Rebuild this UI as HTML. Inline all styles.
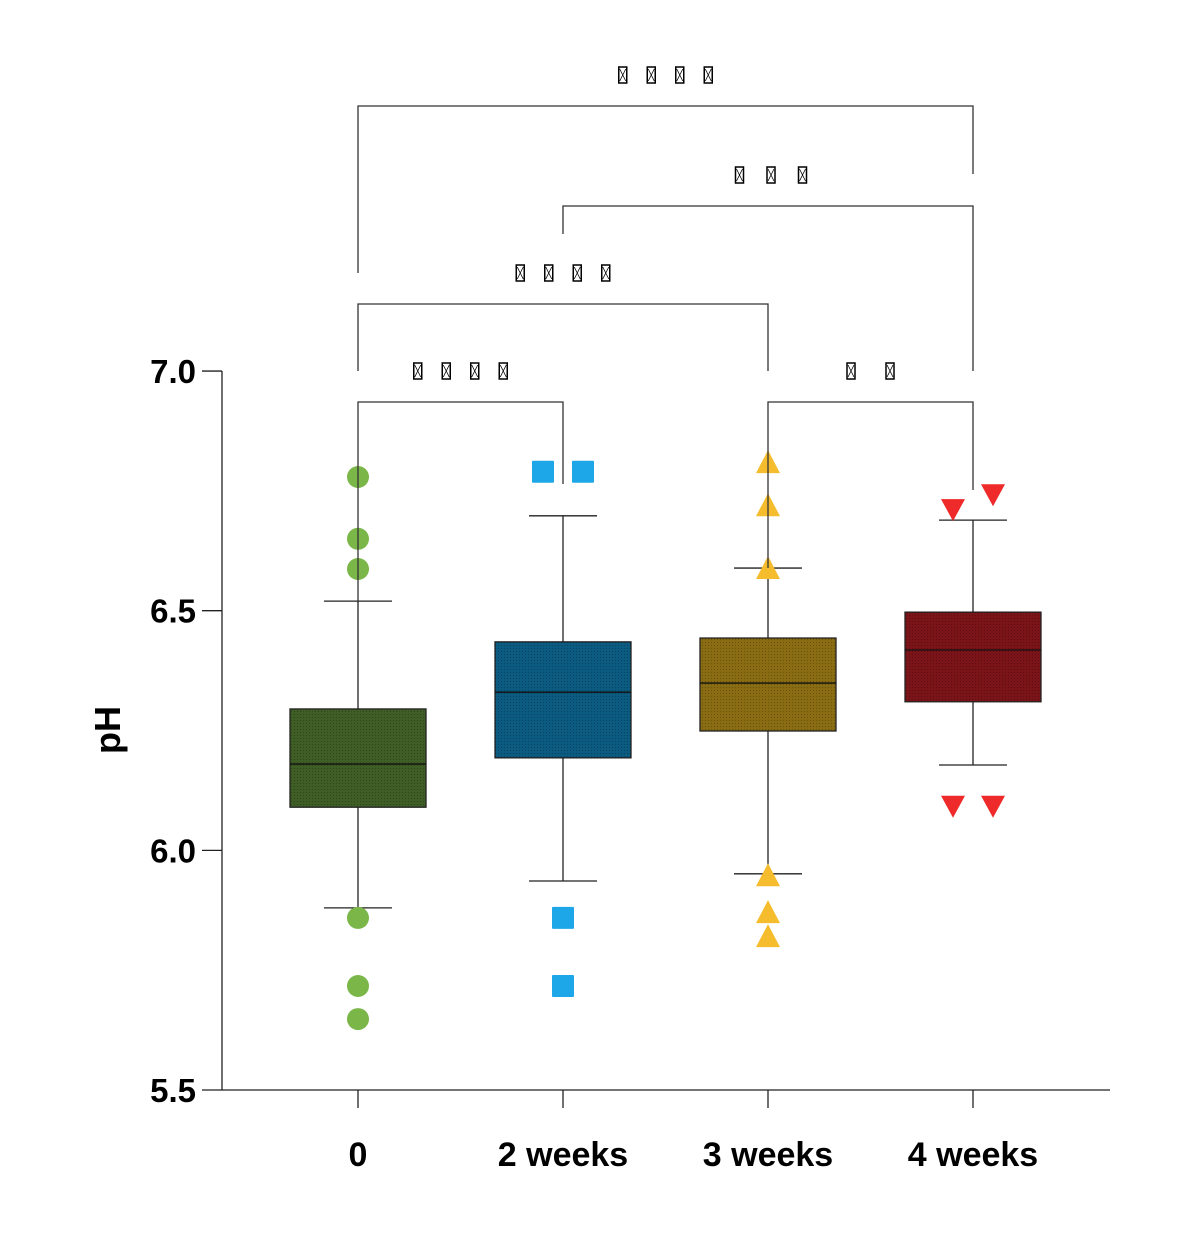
<!DOCTYPE html>
<html><head><meta charset="utf-8"><style>
html,body{margin:0;padding:0;background:#fff;}
svg{display:block;font-family:"Liberation Sans",Arial,sans-serif;}
</style></head><body>
<svg id="chart" width="1200" height="1233" viewBox="0 0 1200 1233" xmlns="http://www.w3.org/2000/svg">
<defs>
<pattern id="dots" width="3" height="3" patternUnits="userSpaceOnUse"><rect x="0" y="0" width="1" height="1" fill="rgba(0,0,0,0.25)"/></pattern>
</defs>
<g id="axes"></g>
<g id="marks"></g>
<g id="sig"></g>
</svg>
<script>
const categories = ["0","2 weeks","3 weeks","4 weeks"];
const q1 = [6.09, 6.193, 6.249, 6.31];
const q3 = [6.295, 6.435, 6.443, 6.497];
const medians = [6.18, 6.33, 6.349, 6.418];
const whiskerLow = [5.88, 5.936, 5.951, 6.178];
const whiskerHigh = [6.52, 6.698, 6.589, 6.689];
const outliers = [
  [6.779, 6.65, 6.587, 5.859, 5.717, 5.648],
  [6.79, 6.79, 5.859, 5.717],
  [6.808, 6.718, 6.587, 5.946, 5.869, 5.819],
  [6.712, 6.743, 6.093, 6.093]
];
const outlierOffsets = [[0,0,0,0,0,0],[-20,20,0,0],[0,0,0,0,0,0],[-20,20,-20,20]];
const yTicks = [5.5, 6.0, 6.5, 7.0];
const yTickLabels = ["5.5","6.0","6.5","7.0"];
const comparisons = [[0,3],[1,3],[0,2],[0,1],[2,3]];
const sigLabels = ["****","***","****","****","**"];

const NS="http://www.w3.org/2000/svg";
const fills=["#3f5e25","#0b5a80","#8a6c12","#7a1418"];
const ptColors=["#7ab648","#1ea7e8","#f5bd2e","#ee2a2a"];
function y(v){return 1090-(v-5.5)*479.3;}
function x(i){return 358+i*205;}
function el(tag,attrs,parent){const e=document.createElementNS(NS,tag);for(const k in attrs)e.setAttribute(k,attrs[k]);parent.appendChild(e);return e;}
const axes=document.getElementById('axes'),marks=document.getElementById('marks'),sig=document.getElementById('sig');
const ln={stroke:"#222","stroke-width":1.3};
let a=el('line',Object.assign({x1:222,y1:y(7),x2:222,y2:y(5.5)},ln),axes);

a=el('line',Object.assign({x1:222,y1:1090,x2:1110,y2:1090},ln),axes);

yTicks.forEach((t,i)=>{
  let tk=el('line',Object.assign({x1:202,y1:y(t),x2:222,y2:y(t)},ln),axes);
  
  let tx=el('text',{x:196,y:y(t)+12,"text-anchor":"end","font-size":33,"font-weight":"bold",fill:"#000"},axes);
  tx.textContent=yTickLabels[i];
  
});
categories.forEach((c,i)=>{
  let tk=el('line',Object.assign({x1:x(i),y1:1090,x2:x(i),y2:1108},ln),axes);
  
  let tx=el('text',{x:x(i),y:1166,"text-anchor":"middle","font-size":34,"font-weight":"bold",fill:"#000"},axes);
  tx.textContent=c;
  
});
let yt=el('text',{x:0,y:0,transform:"translate(120,730) rotate(-90)","text-anchor":"middle","font-size":36,"font-weight":"bold",fill:"#000"},axes);
yt.textContent="pH";


categories.forEach((c,i)=>{
  const g=el('g',{},marks);
  
  el('line',Object.assign({x1:x(i),y1:y(whiskerHigh[i]),x2:x(i),y2:y(q3[i])},ln),g);
  el('line',Object.assign({x1:x(i),y1:y(q1[i]),x2:x(i),y2:y(whiskerLow[i])},ln),g);
  el('line',Object.assign({x1:x(i)-34,y1:y(whiskerHigh[i]),x2:x(i)+34,y2:y(whiskerHigh[i])},ln),g);
  el('line',Object.assign({x1:x(i)-34,y1:y(whiskerLow[i]),x2:x(i)+34,y2:y(whiskerLow[i])},ln),g);
  el('rect',{x:x(i)-68,y:y(q3[i]),width:136,height:y(q1[i])-y(q3[i]),fill:fills[i],stroke:"#222","stroke-width":1.3},g);
  el('rect',{x:x(i)-68,y:y(q3[i]),width:136,height:y(q1[i])-y(q3[i]),fill:"url(#dots)"},g);
  el('line',{x1:x(i)-68,y1:y(medians[i]),x2:x(i)+68,y2:y(medians[i]),stroke:"#111","stroke-width":1.3},g);
  outliers[i].forEach((v,j)=>{
    const cx=x(i)+outlierOffsets[i][j],cy=y(v);let p;
    if(i===0)p=el('circle',{cx:cx,cy:cy,r:11,fill:ptColors[0]},g);
    else if(i===1)p=el('rect',{x:cx-11,y:cy-11,width:22,height:22,rx:1,fill:ptColors[1]},g);
    else if(i===2)p=el('polygon',{points:`${cx},${cy-13} ${cx+12},${cy+10} ${cx-12},${cy+10}`,fill:ptColors[2]},g);
    else p=el('polygon',{points:`${cx-12},${cy-10} ${cx+12},${cy-10} ${cx},${cy+12}`,fill:ptColors[3]},g);
    
  });
});

const bY=[106,206,304,402,402];
const legL=[273,234,371,603,568];
const legR=[174,371,371,484,490];
comparisons.forEach((cp,k)=>{
  const g=el('g',{},sig);
  
  const x1=x(cp[0]),x2=x(cp[1]);
  el('polyline',{points:`${x1},${legL[k]} ${x1},${bY[k]} ${x2},${bY[k]} ${x2},${legR[k]}`,fill:"none",stroke:"#333","stroke-width":1.3},g);
  const n=sigLabels[k].length,gap=(n===2)?39:(n===3?31.5:28.5);
  const cx=(x1+x2)/2+(k===1?3:0)+(k===0?0:0);
  const ty=bY[k]-31;
  for(let s=0;s<n;s++){
    const bx=cx-(n-1)*gap/2+s*gap;
    el('rect',{x:bx-4,y:ty-8,width:8,height:16,fill:"#fff",stroke:"#000","stroke-width":1.5},g);
    el('path',{d:`M${bx-3},${ty-6} L${bx+3},${ty+6} M${bx+3},${ty-6} L${bx-3},${ty+6}`,stroke:"#000","stroke-width":0.8},g);
  }
  const t=el('text',{x:cx,y:ty+5,"text-anchor":"middle","font-size":14,fill:"transparent"},g);
  t.textContent=sigLabels[k];
  
});
</script>
</body></html>
